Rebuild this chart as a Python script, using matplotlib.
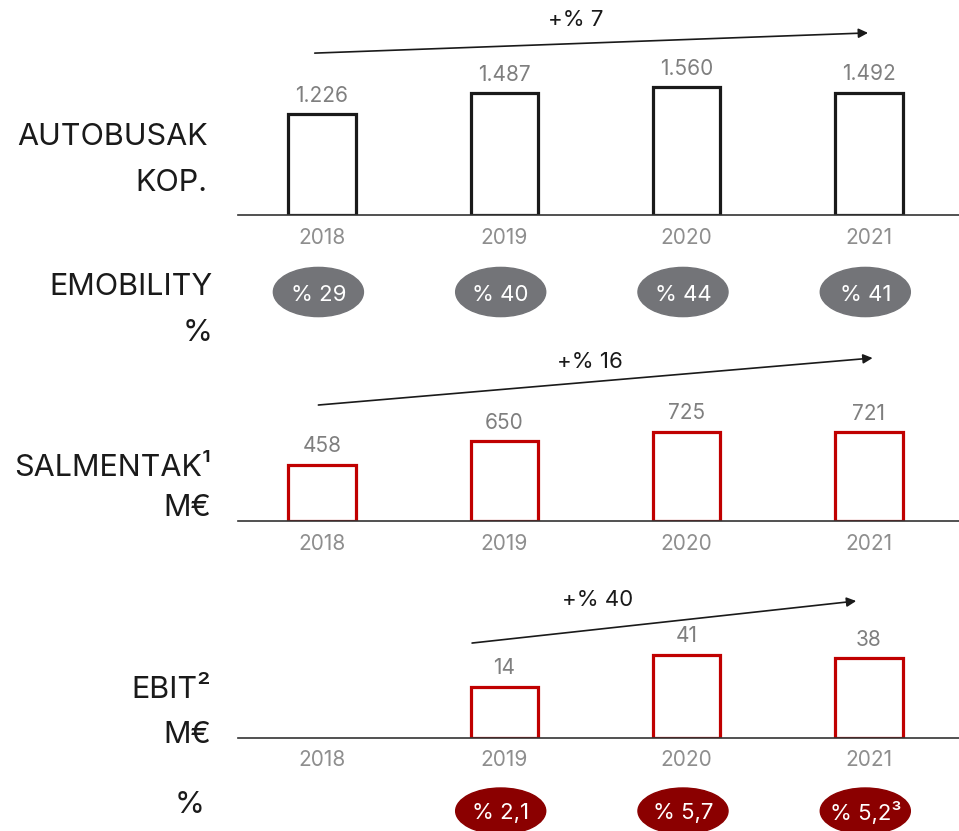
import numpy as np
import matplotlib
matplotlib.use('Agg')
import matplotlib.pyplot as plt
from matplotlib.patches import Ellipse

plt.rcParams['font.family'] = ['Inter', 'DejaVu Sans']

#data
years = ['2018', '2019', '2020', '2021']
buses = [1226, 1487, 1560, 1492]
emobility = [29, 40, 44, 41]
sales = [458, 650, 725, 721]
ebit = [np.nan, 14, 41, 38]
ebit_margin = [np.nan, 2.1, 5.7, 5.2]
growth = ['+% 7', '+% 16', '+% 40']

DARK = '#1a1a1a'
RED = '#c00000'
DARKRED = '#8b0000'
GREY_TXT = '#7f7f7f'
YEAR_TXT = '#8e8e8e'
PILL = '#737478'

fig = plt.figure(figsize=(9.59, 8.31), dpi=100)
W, H = 959, 831
x = np.arange(len(years))
xlim = (-0.461, 3.494)

def px_axes(top, bottom):
    return fig.add_axes([238 / W, (H - bottom) / H, 721 / W, (bottom - top) / H])

def setup(ax):
    ax.set_xlim(xlim)
    for s in ['top', 'right', 'left']:
        ax.spines[s].set_visible(False)
    ax.spines['bottom'].set_color('#333333')
    ax.spines['bottom'].set_linewidth(1.2)
    ax.set_yticks([])
    ax.set_xticks(x)
    ax.set_xticklabels(years, color=YEAR_TXT, fontsize=15)
    ax.tick_params(axis='x', length=0, pad=9)
    ax.patch.set_alpha(0)

def fmt(v):
    return f'{int(v):,}'.replace(',', '.')

def bars(ax, vals, color, floor=0):
    for xi, v in zip(x, vals):
        if np.isnan(v):
            continue
        ax.bar(xi, v - floor, bottom=floor, width=0.37, facecolor='white',
               edgecolor=color, linewidth=2.3)
        ax.annotate(fmt(v), (xi, v), xytext=(0, 9), textcoords='offset points',
                    ha='center', va='baseline', color=GREY_TXT, fontsize=15)

def trend(ax, x0, y0, x1, y1, label, tx, ty):
    tr = ax.get_xaxis_transform()
    ax.annotate('', xy=(x1, y1), xytext=(x0, y0), xycoords=tr, textcoords=tr,
                arrowprops=dict(arrowstyle='-|>', color=DARK, lw=1.2,
                                mutation_scale=14, shrinkA=0, shrinkB=0))
    ax.text(tx, ty, label, transform=tr, ha='center', va='center',
            fontsize=16, color=DARK)

#panel 1 - buses
ax1 = px_axes(0, 215)
setup(ax1)
ax1.set_ylim(0, 2622)
bars(ax1, buses, DARK)
trend(ax1, -0.04, 0.753, 2.995, 0.847, growth[0], 1.39, 0.907)

#emobility pills
axr1 = px_axes(262, 322)
axr1.set_xlim(xlim)
axr1.set_ylim(0, 1)
axr1.axis('off')
for xi, v in zip(x, emobility):
    axr1.add_patch(Ellipse((xi - 0.02, 0.5), 0.494, 0.82, color=PILL))
    axr1.text(xi - 0.02, 0.45, f'% {v}', ha='center', va='center',
              color='white', fontsize=16)

#panel 2 - sales
ax2 = px_axes(345, 521)
setup(ax2)
ax2.set_ylim(0, 1431)
bars(ax2, sales, RED)
trend(ax2, -0.02, 0.659, 3.02, 0.926, growth[1], 1.47, 0.903)

#panel 3 - ebit (the source bars are not drawn from zero)
ax3 = px_axes(580, 738)
setup(ax3)
floor = -29
ax3.set_ylim(floor, floor + 133)
bars(ax3, ebit, RED, floor=floor)
trend(ax3, 0.823, 0.601, 2.93, 0.867, growth[2], 1.51, 0.873)

#ebit margin pills
axr2 = px_axes(781, 831)
axr2.set_xlim(xlim)
axr2.set_ylim(0, 1)
axr2.axis('off')
for xi, v in zip(x, ebit_margin):
    if np.isnan(v):
        continue
    lab = f'% {v:.1f}'.replace('.', ',')
    if xi == 3:
        lab += '³'
    axr2.add_patch(Ellipse((xi - 0.02, 0.4), 0.494, 0.92, color=DARKRED, clip_on=False))
    axr2.text(xi - 0.02, 0.36, lab, ha='center', va='center',
              color='white', fontsize=16)

#row titles on the left
titles = [('AUTOBUSAK', 208, 137), ('KOP.', 207, 183),
          ('EMOBILITY', 213, 287), ('%', 213, 333),
          ('SALMENTAK¹', 211, 468), ('M€', 211, 508),
          ('EBIT²', 211, 690), ('M€', 211, 735),
          ('%', 205, 805)]
for t, tx, ty in titles:
    fig.text(tx / W, 1 - ty / H, t, ha='right', va='center', fontsize=22, color=DARK)

fig.savefig('out.png', dpi=100)
